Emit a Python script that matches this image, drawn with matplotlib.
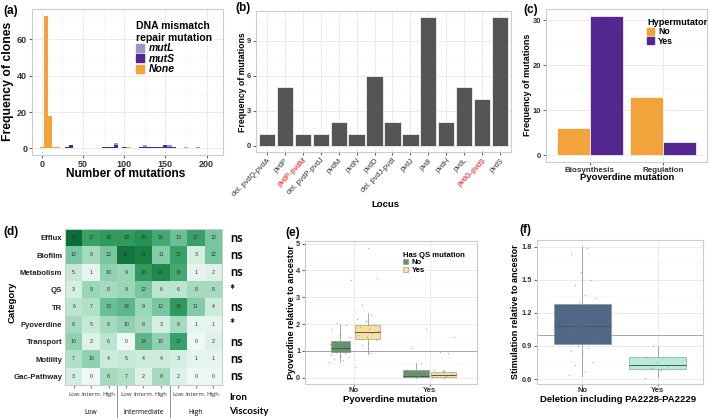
import numpy as np
import matplotlib
matplotlib.use("Agg")
import matplotlib.pyplot as plt
from matplotlib.patches import Patch
from matplotlib.colors import LinearSegmentedColormap
from matplotlib.transforms import blended_transform_factory

plt.rcParams["font.family"] = ["Liberation Sans", "DejaVu Sans"]
plt.rcParams["font.weight"] = "bold"

# ---------------- data ----------------
# (a) histogram of mutation counts, bin width 5
bin_centers = [0, 5, 10, 15, 20, 30, 35, 75, 80, 85, 90, 100, 105, 120, 125, 130,
               135, 140, 145, 150, 155, 160, 175, 190]
none_counts = [1, 73, 18, 1, 1, 0, 0, 0, 0, 0, 0, 0, 1, 0, 0, 0, 0, 0, 0, 0, 0, 0, 1, 0]
muts_counts = [0, 0, 0, 0, 0, 1, 2, 1, 1, 1, 2, 1, 0, 1, 1, 1, 1, 1, 1, 2, 1, 1, 0, 0]
mutl_counts = [0, 0, 0, 0, 0, 0, 0, 0, 0, 0, 1, 0, 0, 0, 1, 0, 0, 0, 0, 0, 1, 0, 0, 1]

# (b) pvd loci
loci = ["del. pvdQ-pvdA", "pvdP", "pvdP-pvdM", "del. pvdP-pvdJ", "pvdM", "pvdN",
        "pvdD", "del. pvdJ-pvdI", "pvdJ", "pvdI", "pvdH", "pvdL", "pvdG-pvdS", "pvdS"]
locus_freq = [1, 5, 1, 1, 2, 1, 6, 2, 1, 11, 2, 5, 4, 11]
red_loci = ["pvdP-pvdM", "pvdG-pvdS"]

# (c) pyoverdine mutation type by hypermutator status
pvd_types = ["Biosynthesis", "Regulation"]
hyper_no = [6, 13]
hyper_yes = [31, 3]

# (d) heatmap
categories = ["Efflux", "Biofilm", "Metabolism", "QS", "TR", "Pyoverdine",
              "Transport", "Motility", "Gac-Pathway"]
iron_levels = ["Low", "Interm.", "High"]
viscosity_levels = ["Low", "Intermediate", "High"]
heat_values = [
    [23, 17, 18, 18, 19, 16, 13, 17, 12],
    [12, 8, 12, 22, 21, 11, 17, 3, 12],
    [5, 1, 10, 9, 18, 20, 16, 1, 2],
    [3, 9, 8, 9, 12, 6, 6, 8, 8],
    [6, 7, 13, 14, 9, 12, 18, 11, 4],
    [8, 5, 8, 10, 8, 3, 8, 1, 1],
    [10, 2, 6, 0, 14, 10, 17, 0, 2],
    [7, 10, 4, 5, 4, 4, 3, 1, 1],
    [3, 0, 8, 7, 2, 8, 2, 0, 0],
]
significance = ["ns", "ns", "ns", "*", "ns", "*", "ns", "ns", "ns"]

# (e) pyoverdine relative to ancestor: box stats and points
e_groups = ["No", "Yes"]
e_stats = {
    ("No", "No"): dict(whislo=0.58, q1=0.95, med=1.1, q3=1.38, whishi=2.0),
    ("No", "Yes"): dict(whislo=0.88, q1=1.45, med=1.7, q3=1.95, whishi=2.4),
    ("Yes", "No"): dict(whislo=0.0, q1=0.02, med=0.05, q3=0.28, whishi=0.55),
    ("Yes", "Yes"): dict(whislo=0.0, q1=0.02, med=0.08, q3=0.22, whishi=0.3),
}
e_points = {
    ("No", "No"): [0.6, 0.65, 0.7, 0.75, 0.8, 0.85, 0.9, 0.95, 1.0, 1.05, 1.1, 1.15,
                   1.2, 1.25, 1.3, 1.35, 1.5, 1.6, 1.8, 1.95, 2.05, 3.65],
    ("No", "Yes"): [0.4, 0.9, 1.2, 1.4, 1.5, 1.6, 1.65, 1.7, 1.75, 1.8, 1.9, 2.0,
                    2.1, 2.2, 2.35, 2.7, 3.7, 4.85],
    ("Yes", "No"): [0.02, 0.05, 0.1, 0.15, 0.2, 0.3, 0.55, 1.1, 1.8],
    ("Yes", "Yes"): [0.02, 0.05, 0.1, 0.15, 0.25, 0.3, 0.9, 0.95, 1.5],
}

# (f) stimulation relative to ancestor
f_groups = ["No", "Yes"]
f_stats = {
    "No": dict(whislo=0.63, q1=0.92, med=1.08, q3=1.28, whishi=1.8),
    "Yes": dict(whislo=0.62, q1=0.69, med=0.73, q3=0.8, whishi=0.9),
}
f_points = {
    "No": [0.64, 0.66, 0.73, 0.75, 0.83, 0.85, 0.88, 0.9, 0.95, 1.0, 1.02, 1.05,
           1.08, 1.1, 1.12, 1.15, 1.18, 1.2, 1.25, 1.28, 1.3, 1.33, 1.36, 1.45,
           1.5, 1.57, 1.73, 1.79],
    "Yes": [0.61, 0.68, 0.7, 0.72, 0.75, 0.8, 0.8, 0.9],
}

# ---------------- styling ----------------
ORANGE = "#f2a33c"
PURPLE = "#54278f"
LPURPLE = "#9e95cc"
GREEN = "#64946a"
YELLOW = "#f7e19a"
SLATE = "#4e6886"
MINT = "#b6edd6"

W, H = 709, 418
fig = plt.figure(figsize=(W / 100, H / 100), dpi=100)


def add_ax(l, t, r, b):
    return fig.add_axes([l / W, 1 - b / H, (r - l) / W, (b - t) / H])


def ftext(x, y, s, **kw):
    kw.setdefault("ha", "center")
    kw.setdefault("va", "center")
    kw.setdefault("fontweight", "bold")
    fig.text(x / W, 1 - y / H, s, **kw)


def gg(ax, size):
    ax.set_facecolor("white")
    for sp in ax.spines.values():
        sp.set_color("#cccccc")
        sp.set_linewidth(0.8)
    ax.grid(True, which="major", color="#e8e8e8", lw=0.6)
    ax.grid(True, which="minor", color="#f3f3f3", lw=0.4)
    ax.set_axisbelow(True)
    ax.tick_params(which="major", length=2, color="#666666", pad=1.5,
                   labelsize=size, labelcolor="#333333")
    ax.tick_params(which="minor", length=0)


def jitter(n, width):
    return ((np.arange(n) * 0.618034) % 1 - 0.5) * width


# ---------------- (a) ----------------
ax = add_ax(32, 9, 223, 155)
gg(ax, 6.5)
none_arr = np.array(none_counts)
muts_arr = np.array(muts_counts)
ax.bar(bin_centers, none_counts, width=5, color=ORANGE, lw=0)
ax.bar(bin_centers, muts_counts, width=5, bottom=none_arr, color=PURPLE, lw=0)
ax.bar(bin_centers, mutl_counts, width=5, bottom=none_arr + muts_arr, color=LPURPLE, lw=0)
ax.set_xlim(-12, 220)
ax.set_ylim(-3.65, 76.65)
ax.set_xticks([0, 50, 100, 150, 200])
ax.set_xticks([25, 75, 125, 175], minor=True)
ax.set_yticks([0, 20, 40, 60])
ax.set_yticks([10, 30, 50, 70], minor=True)
leg = ax.legend(handles=[Patch(color=LPURPLE, label="mutL"),
                         Patch(color=PURPLE, label="mutS"),
                         Patch(color=ORANGE, label="None")],
                title="DNA mismatch\nrepair mutation", loc="upper left",
                bbox_to_anchor=(0.51, 0.96), frameon=False, fontsize=7.5,
                handlelength=0.8, handleheight=0.8, handletextpad=0.5,
                labelspacing=0.05, borderaxespad=0.2, alignment="left")
leg.get_title().set_fontweight("bold")
leg.get_title().set_fontsize(7.5)
for t in leg.get_texts():
    t.set_fontstyle("italic")
    t.set_fontweight("bold")
ftext(8, 81, "Frequency of clones", rotation=90, fontsize=8.8)
ftext(126, 174, "Number of mutations", fontsize=8.6)
ftext(11, 11, "(a)", fontsize=8.5)

# ---------------- (b) ----------------
ax = add_ax(256, 11, 511, 152)
gg(ax, 5.5)
xb = np.arange(1, len(loci) + 1)
ax.bar(xb, locus_freq, width=0.9, color="#555555", edgecolor="white", lw=0.5)
ax.set_xlim(0.4, len(loci) + 0.6)
ax.set_ylim(-0.55, 11.55)
ax.set_yticks([0, 3, 6, 9])
ax.set_yticks([1.5, 4.5, 7.5, 10.5], minor=True)
ax.set_xticks(xb)
ax.set_xticklabels(loci, rotation=45, ha="right", rotation_mode="anchor",
                   fontsize=5.3, fontweight="normal")
for lab in ax.get_xticklabels():
    if lab.get_text() in red_loci:
        lab.set_color("red")
ftext(242, 82, "Frequency of mutations", rotation=90, fontsize=6.3)
ftext(385, 205, "Locus", fontsize=6.8)
ftext(243, 8, "(b)", fontsize=8.5)

# ---------------- (c) ----------------
ax = add_ax(546, 9, 707, 162)
gg(ax, 5.5)
xc = np.arange(1, len(pvd_types) + 1)
ax.bar(xc - 0.225, hyper_no, width=0.45, color=ORANGE, edgecolor="white", lw=0.5)
ax.bar(xc + 0.225, hyper_yes, width=0.45, color=PURPLE, edgecolor="white", lw=0.5)
ax.set_xlim(0.4, 2.6)
ax.set_ylim(-1.55, 32.55)
ax.set_yticks([0, 10, 20, 30])
ax.set_yticks([5, 15, 25], minor=True)
ax.set_xticks(xc)
ax.set_xticklabels(pvd_types, fontsize=5.8)
leg = ax.legend(handles=[Patch(color=ORANGE, label="No"), Patch(color=PURPLE, label="Yes")],
                title="Hypermutator", loc="upper left", bbox_to_anchor=(0.6, 0.97),
                frameon=False, fontsize=6.3, handlelength=0.8, handleheight=0.8,
                handletextpad=0.5, labelspacing=0.05, borderaxespad=0.1,
                alignment="left")
leg.get_title().set_fontweight("bold")
leg.get_title().set_fontsize(6.6)
ftext(527, 85, "Frequency of mutations", rotation=90, fontsize=6.5)
ftext(627, 177, "Pyoverdine mutation", fontsize=6.8)
ftext(531, 10, "(c)", fontsize=8.5)

# ---------------- (d) ----------------
ax = add_ax(65, 229, 222, 385)
cmap = LinearSegmentedColormap.from_list(
    "grn", ["#eef8f4", "#bfe6d3", "#7fcaa5", "#35a065", "#0a6e35"])
vals = np.array(heat_values)
ax.imshow(vals, cmap=cmap, vmin=0, vmax=23, aspect="auto", interpolation="nearest")
for i in range(vals.shape[0]):
    for j in range(vals.shape[1]):
        ax.text(j, i, str(vals[i, j]), ha="center", va="center", fontsize=3.8,
                fontweight="normal", color="#333333")
for sp in ax.spines.values():
    sp.set_color("#cccccc")
    sp.set_linewidth(0.8)
ax.set_yticks(range(len(categories)))
ax.set_yticklabels(categories, fontsize=5.6)
ax.set_xticks(range(9))
ax.set_xticklabels(iron_levels * 3, fontsize=4.3, fontweight="normal",
                   family=["Open Sans", "DejaVu Sans"])
ax.tick_params(axis="y", length=0, pad=2, labelcolor="#222222")
ax.tick_params(axis="x", length=2, color="#888888", pad=3, labelcolor="#333333")
tr = blended_transform_factory(ax.transData, ax.transAxes)
for k, lev in enumerate(viscosity_levels):
    ax.text(3 * k + 1, -0.175, lev, transform=tr, ha="center", va="center",
            fontsize=4.8, fontweight="normal", family=["Open Sans", "DejaVu Sans"])
for xs in [2.5, 5.5]:
    ax.plot([xs, xs], [0, -0.22], transform=tr, color="#666666", lw=0.5, clip_on=False)
tr2 = blended_transform_factory(ax.transAxes, ax.transData)
for i, s in enumerate(significance):
    ax.text(1.05, i, s, transform=tr2, ha="left", va="center", fontsize=9,
            fontweight="bold", family=["Lato", "DejaVu Sans"])
ftext(229, 397, "Iron", ha="left", fontsize=7, family=["Lato", "DejaVu Sans"])
ftext(229, 411, "Viscosity", ha="left", fontsize=7, family=["Lato", "DejaVu Sans"])
ftext(12, 302, "Category", rotation=90, fontsize=6.8)
ftext(11, 232, "(d)", fontsize=8.5)

# ---------------- (e) ----------------
ax = add_ax(305, 241, 477, 384)
gg(ax, 5.3)
ax.tick_params(axis="x", length=1.5, pad=0.3, labelsize=5.5)
ax.axhline(1, color="#999999", lw=0.6, zorder=1)
widths = {("No", "No"): 0.25, ("No", "Yes"): 0.32, ("Yes", "No"): 0.34, ("Yes", "Yes"): 0.34}
for gi, g in enumerate(e_groups):
    for hue, off, col in [("No", -0.18, GREEN), ("Yes", 0.18, YELLOW)]:
        key = (g, hue)
        pos = gi + 1 + off
        st = dict(e_stats[key], fliers=[])
        ax.bxp([st], positions=[pos], widths=widths[key], showcaps=False,
               patch_artist=True, manage_ticks=False,
               boxprops=dict(facecolor=col, edgecolor="#8a8a8a", lw=0.4),
               whiskerprops=dict(color="#999999", lw=0.6),
               medianprops=dict(color="#555555", lw=0.7))
        pts = np.array(e_points[key])
        ax.scatter(pos + jitter(len(pts), 0.3), pts, s=1.2, color="#777777",
                   alpha=0.5, lw=0, zorder=3)
ax.set_xlim(0.355, 2.62)
ax.set_ylim(-0.24, 5.1)
ax.set_yticks([0, 1, 2, 3, 4, 5])
ax.set_yticks([0.5, 1.5, 2.5, 3.5, 4.5], minor=True)
ax.set_xticks([1, 2])
ax.set_xticklabels(e_groups)
leg = ax.legend(handles=[Patch(facecolor=GREEN, edgecolor="#888888", lw=0.4, label="No"),
                         Patch(facecolor=YELLOW, edgecolor="#888888", lw=0.4, label="Yes")],
                title="Has QS mutation", loc="upper left", bbox_to_anchor=(0.55, 0.95),
                frameon=False, fontsize=5.5, handlelength=0.6, handleheight=0.6,
                handletextpad=0.5, labelspacing=0.05, borderaxespad=0.1,
                alignment="left")
leg.get_title().set_fontweight("bold")
leg.get_title().set_fontsize(5.5)
ftext(292, 312, "Pyoverdine relative to ancestor", rotation=90, fontsize=6.5)
ftext(390, 399, "Pyoverdine mutation", fontsize=6.8)
ftext(293, 233, "(e)", fontsize=8.5)

# ---------------- (f) ----------------
ax = add_ax(537, 240, 703, 384)
gg(ax, 5.3)
ax.tick_params(axis="x", length=1.5, pad=0.3, labelsize=5.5)
ax.axhline(1, color="#999999", lw=0.6, zorder=1)
for gi, (g, col) in enumerate(zip(f_groups, [SLATE, MINT])):
    st = dict(f_stats[g], fliers=[])
    ax.bxp([st], positions=[gi + 1], widths=0.75, showcaps=False, patch_artist=True,
           manage_ticks=False,
           boxprops=dict(facecolor=col, edgecolor="#8a8a8a", lw=0.4),
           whiskerprops=dict(color="#999999", lw=0.6),
           medianprops=dict(color="#555555", lw=0.7))
    pts = np.array(f_points[g])
    ax.scatter(gi + 1 + jitter(len(pts), 0.35), pts, s=1.2, color="#777777",
               alpha=0.5, lw=0, zorder=3)
ax.set_xlim(0.4, 2.6)
ax.set_ylim(0.555, 1.86)
ax.set_yticks([0.6, 0.9, 1.2, 1.5, 1.8])
ax.set_yticks([0.75, 1.05, 1.35, 1.65], minor=True)
ax.set_xticks([1, 2])
ax.set_xticklabels(f_groups)
ftext(515, 312, "Stimulation relative to ancestor", rotation=90, fontsize=6.5)
ftext(618, 399.5, "Deletion including PA2228-PA2229", fontsize=6.8)
ftext(525, 230, "(f)", fontsize=8.5)

fig.savefig("out.png", dpi=100)
